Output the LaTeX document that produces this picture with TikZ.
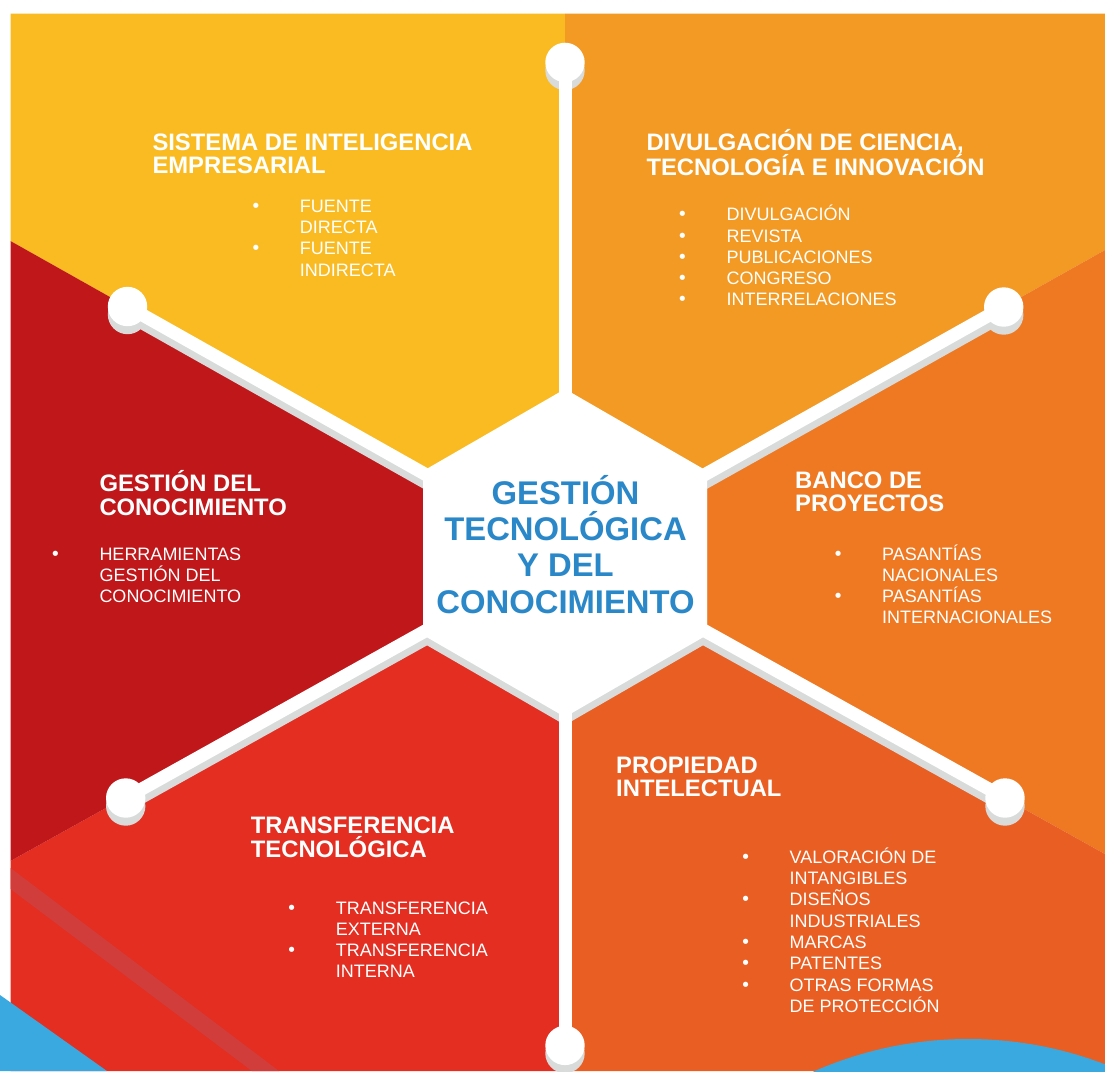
\documentclass[tikz,border=0pt]{standalone}
\usepackage{fontspec}
\setmainfont{Liberation Sans}
\newfontfamily\bulfont{DejaVu Sans}

\definecolor{cyel}{HTML}{F9BB21}
\definecolor{clor}{HTML}{F29A24}
\definecolor{corg}{HTML}{EE7922}
\definecolor{cored}{HTML}{E95E22}
\definecolor{cred}{HTML}{E32E21}
\definecolor{cdrd}{HTML}{C0171A}
\definecolor{cblu}{HTML}{39A9E0}
\definecolor{chub}{HTML}{2A88C9}
\definecolor{cshd}{HTML}{D9DBDB}
\definecolor{cstr}{HTML}{D13D3B}

% list helpers: bullet line, continuation line, plain line, centred line
\newcommand\bul{{\bulfont •}}
\newcommand\bi[1]{\hbox{\hbox to47pt{\kern3pt\hbox to0pt{\hss\bul\hss}\hfil}#1}}
\newcommand\bc[1]{\hbox{\kern47pt #1}}
\newcommand\tl[1]{\hbox{#1}}
\newcommand\hubline[1]{\hbox to0pt{\hss#1\hss}}

% white hub, spokes and end caps
\newcommand\skeleton[1]{%
  \fill[#1] (H1) -- (H2) -- (H3) -- (H4) -- (H5) -- (H6) -- cycle;
  \foreach \k in {1,...,6}{%
    \draw[draw=#1, line width=13pt] (C) -- (E\k);
    \fill[#1] (E\k) circle[radius=19.7pt];
  }%
}

\begin{document}
\begin{tikzpicture}[x=1pt,y=-1pt,
  ttl/.style={font=\fontsize{23.8}{23.7}\selectfont\bfseries, text=white, inner sep=0pt, anchor=base west},
  itm/.style={font=\fontsize{18}{21.3}\selectfont, text=white, inner sep=0pt, anchor=base west},
  hubtxt/.style={font=\fontsize{32.8}{36.4}\selectfont\bfseries, text=chub, inner sep=0pt, anchor=base}]

\useasboundingbox (0,0) rectangle (1105,1071);
\fill[white] (0,0) rectangle (1105,1071);

% centre, frame points and spoke ends
\coordinate (C) at (565,553);
\coordinate (T) at (565,13.5);
\coordinate (TL) at (10.5,13.5);
\coordinate (UL) at (10.5,241);
\coordinate (LL) at (10.5,861);
\coordinate (BL) at (10.5,1071);
\coordinate (B) at (565,1071);
\coordinate (BR) at (1105,1071);
\coordinate (LR) at (1105,854);
\coordinate (UR) at (1105,250);
\coordinate (TR) at (1105,13.5);

\coordinate (H1) at (565,389);
\coordinate (H2) at (707,471);
\coordinate (H3) at (707,635);
\coordinate (H4) at (565,717);
\coordinate (H5) at (423,635);
\coordinate (H6) at (423,471);

\coordinate (E1) at (565,62.4);
\coordinate (E2) at (1003.7,307);
\coordinate (E3) at (1005,798);
\coordinate (E4) at (565,1045.4);
\coordinate (E5) at (125.7,798);
\coordinate (E6) at (127.5,306.5);

% coloured sectors
\begin{scope}
  \clip (TL) rectangle (BR);
  \fill[cyel]  (C) -- (UL) -- (TL) -- (T) -- cycle;
  \fill[clor]  (C) -- (T) -- (TR) -- (UR) -- cycle;
  \fill[corg]  (C) -- (UR) -- (LR) -- cycle;
  \fill[cored] (C) -- (LR) -- (BR) -- (B) -- cycle;
  \fill[cred]  (C) -- (B) -- (BL) -- (LL) -- cycle;
  \fill[cdrd]  (C) -- (LL) -- (UL) -- cycle;
  \fill[cstr] (10.5,868) -- (279,1071) -- (252,1071) -- (10.5,889) -- cycle;
\end{scope}

% blue corner shapes
\begin{scope}
  \clip (0,0) rectangle (1105,1071);
  \fill[cblu] (0,995) -- (107,1071) -- (0,1071) -- cycle;
  \fill[cblu] (968,1421) circle[radius=382pt];
\end{scope}

% shadow, then the white hub with spokes
\begin{scope}[transform canvas={yshift=-8pt}]
  \skeleton{cshd}
\end{scope}
\skeleton{white}

% hub title
\node[hubtxt] (hub) at (565.5,504) {\vtop{\hubline{GESTIÓN}\hubline{TECNOLÓGICA}\hubline{Y DEL}\hubline{CONOCIMIENTO}}};

% sector titles
\node[ttl] (t1) at (152.3,150) {\vtop{\tl{SISTEMA DE INTELIGENCIA}\tl{EMPRESARIAL}}};
\node[ttl] (t2) at (646.3,150) {\vtop{\tl{DIVULGACIÓN DE CIENCIA,}\tl{TECNOLOGÍA E INNOVACIÓN}}};
\node[ttl] (t3) at (795,488) {\vtop{\tl{BANCO DE}\tl{PROYECTOS}}};
\node[ttl] (t4) at (616,773) {\vtop{\tl{PROPIEDAD}\tl{INTELECTUAL}}};
\node[ttl] (t5) at (250.7,833.3) {\vtop{\tl{TRANSFERENCIA}\tl{TECNOLÓGICA}}};
\node[ttl] (t6) at (99.3,491.7) {\vtop{\tl{GESTIÓN DEL}\tl{CONOCIMIENTO}}};

% sector lists
\node[itm] (l1) at (252.7,212.3) {\vtop{\bi{FUENTE}\bc{DIRECTA}\bi{FUENTE}\bc{INDIRECTA}}};
\node[itm] (l2) at (679.3,220.7) {\vtop{\bi{DIVULGACIÓN}\bi{REVISTA}\bi{PUBLICACIONES}\bi{CONGRESO}\bi{INTERRELACIONES}}};
\node[itm] (l3) at (835,560) {\vtop{\bi{PASANTÍAS}\bc{NACIONALES}\bi{PASANTÍAS}\bc{INTERNACIONALES}}};
\node[itm] (l4) at (742.5,863.3) {\vtop{\bi{VALORACIÓN DE}\bc{INTANGIBLES}\bi{DISEÑOS}\bc{INDUSTRIALES}\bi{MARCAS}\bi{PATENTES}\bi{OTRAS FORMAS}\bc{DE PROTECCIÓN}}};
\node[itm] (l5) at (288.6,914) {\vtop{\bi{TRANSFERENCIA}\bc{EXTERNA}\bi{TRANSFERENCIA}\bc{INTERNA}}};
\node[itm] (l6) at (52.3,560) {\vtop{\bi{HERRAMIENTAS}\bc{GESTIÓN DEL}\bc{CONOCIMIENTO}}};

\end{tikzpicture}
\end{document}
